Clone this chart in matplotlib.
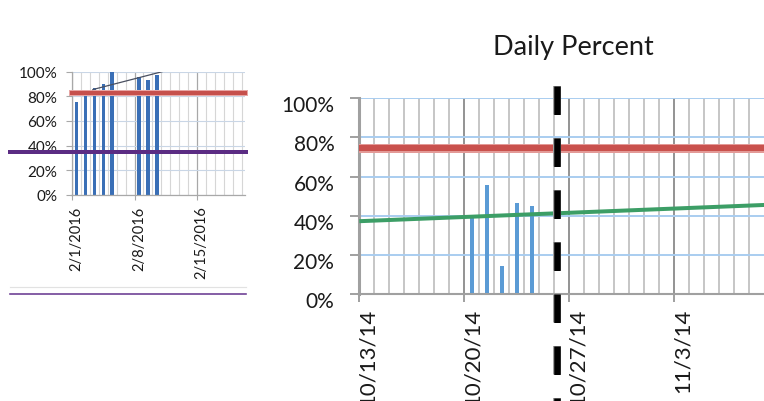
import matplotlib
matplotlib.use("Agg")
import matplotlib.pyplot as plt
import matplotlib.dates as mdates
import matplotlib.transforms as mtransforms
from matplotlib.lines import Line2D
from matplotlib.ticker import FuncFormatter, MultipleLocator
import pandas as pd

plt.rcParams['font.family'] = ['Lato', 'DejaVu Sans']

# -------------------------------
# Data: left chart (Feb 2016)
# -------------------------------
left_dates = pd.to_datetime(["2016-02-01", "2016-02-02", "2016-02-03", "2016-02-04",
                             "2016-02-05", "2016-02-08", "2016-02-09", "2016-02-10"])
left_values = [0.75, 0.80, 0.87, 0.90, 1.00, 0.955, 0.93, 0.975]
left_target = 0.83
left_floor = 0.35
left_trend_dates = pd.to_datetime(["2016-02-03 08:00", "2016-02-11 02:00"])
left_trend_values = [0.855, 1.0]
left_tick_dates = pd.to_datetime(["2016-02-01", "2016-02-08", "2016-02-15"])
left_tick_labels = ["2/1/2016", "2/8/2016", "2/15/2016"]

# -------------------------------
# Data: right chart (Daily Percent)
# -------------------------------
right_dates = pd.to_datetime(["2014-10-20", "2014-10-21", "2014-10-22",
                              "2014-10-23", "2014-10-24"])
right_values = [0.39, 0.555, 0.145, 0.465, 0.45]
right_target = 0.745
right_trend_dates = pd.to_datetime(["2014-10-13", "2014-11-09"])
right_trend_values = [0.372, 0.455]
right_cutoff = pd.Timestamp("2014-10-26 05:00")
right_tick_dates = pd.to_datetime(["2014-10-13", "2014-10-20", "2014-10-27", "2014-11-03"])
right_tick_labels = ["10/13/14", "10/20/14", "10/27/14", "11/3/14"]

y_ticks = [0, 0.2, 0.4, 0.6, 0.8, 1.0]

W, H = 764, 402
PT = 0.72  # points per pixel at dpi 100
fig = plt.figure(figsize=(W / 100, H / 100), dpi=100)


def px_axes(x0, y0, x1, y1):
    return fig.add_axes([x0 / W, 1 - y1 / H, (x1 - x0) / W, (y1 - y0) / H])


def shift(labels, dx, dy):
    off = mtransforms.ScaledTranslation(dx / 100, dy / 100, fig.dpi_scale_trans)
    for lab in labels:
        lab.set_transform(lab.get_transform() + off)


num = mdates.date2num
pct = FuncFormatter(lambda v, _: f"{v:.0%}")

# -------------------------------
# Left chart
# -------------------------------
ax1 = px_axes(71.5, 72.7, 245, 195.7)
d0 = num(pd.Timestamp("2016-02-01"))
ax1.set_xlim(d0 - 0.06, d0 + 19.37)
ax1.set_ylim(0, 1)
ax1.set_yticks(y_ticks)
ax1.yaxis.set_major_formatter(pct)
ax1.xaxis.set_minor_locator(MultipleLocator(1))
ax1.set_xticks(num(left_tick_dates))
ax1.set_xticklabels(left_tick_labels, rotation=90, fontsize=10.5, color='#1a1a1a')
ax1.grid(which='minor', axis='x', color='#d6d6d6', lw=0.8)
ax1.grid(which='major', axis='x', color='#a8a8a8', lw=0.9)
ax1.grid(which='major', axis='y', color='#c9d6e6', lw=0.8)
ax1.set_axisbelow(True)
ax1.tick_params(which='minor', length=0)
ax1.tick_params(axis='y', length=6 * PT, pad=8 * PT, labelsize=11,
                labelcolor='#1a1a1a', color='#a8a8a8')
ax1.tick_params(axis='x', which='major', length=5 * PT, pad=5.7 * PT, color='#a8a8a8')
for s in ['top', 'right']:
    ax1.spines[s].set_visible(False)
for s in ['left', 'bottom']:
    ax1.spines[s].set_color('#a8a8a8')
    ax1.spines[s].set_linewidth(0.9)
shift(ax1.get_xticklabels(), 4.5, 0)

ax1.bar(num(left_dates) + 0.5, left_values, width=0.4, color='#3a6fb6', zorder=2)
ax1.axhline(left_target, color='#e8a6a4', lw=6 * PT, zorder=3, clip_on=False)
ax1.axhline(left_target, color='#c6504c', lw=4 * PT, zorder=3, clip_on=False)
ax1.plot(num(left_trend_dates), left_trend_values, color='#4a5060', lw=0.9, zorder=4)

blend1 = mtransforms.blended_transform_factory(fig.transFigure, ax1.transData)
fig.add_artist(Line2D([10 / W, 246 / W], [left_floor, left_floor], transform=blend1,
                      color='#5b2c83', lw=4 * PT))
fig.add_artist(Line2D([10 / W, 246 / W], [1 - 288 / H, 1 - 288 / H],
                      color='#e2e2e2', lw=1.2 * PT))
fig.add_artist(Line2D([10 / W, 246 / W], [1 - 295 / H, 1 - 295 / H],
                      color='#6a3a92', lw=1.6 * PT))

# -------------------------------
# Right chart
# -------------------------------
ax2 = px_axes(359.3, 99.3, 764, 295)
r0 = num(pd.Timestamp("2014-10-13"))
ax2.set_xlim(r0, r0 + 26.98)
ax2.set_ylim(0, 1)
ax2.set_yticks(y_ticks)
ax2.yaxis.set_major_formatter(pct)
ax2.xaxis.set_minor_locator(MultipleLocator(1))
ax2.set_xticks(num(right_tick_dates))
ax2.set_xticklabels(right_tick_labels, rotation=90, fontsize=16, color='#1a1a1a')
ax2.grid(which='minor', axis='x', color='#c6c6c6', lw=1.4)
ax2.grid(which='major', axis='x', color='#808080', lw=1.2)
ax2.grid(which='major', axis='y', color='#a9cdf0', lw=1.4)
ax2.set_axisbelow(True)
ax2.tick_params(which='minor', length=0)
ax2.tick_params(axis='y', length=9 * PT, width=1.4, pad=16 * PT, labelsize=15,
                labelcolor='#1a1a1a', color='#a0a0a0')
ax2.tick_params(axis='x', which='major', length=8 * PT, width=1.4, pad=6 * PT,
                color='#a0a0a0')
for s in ['top', 'right']:
    ax2.spines[s].set_visible(False)
ax2.spines['left'].set_color('#a0a0a0')
ax2.spines['left'].set_linewidth(2.2)
ax2.spines['bottom'].set_color('#a0a0a0')
ax2.spines['bottom'].set_linewidth(1.5)
shift(ax2.get_xticklabels(), 8.5, 0)
shift(ax2.get_yticklabels(), 0, -5)

ax2.bar(num(right_dates) + 0.5, right_values, width=0.3, color='#5b9bd5', zorder=2)
ax2.axhline(right_target, color='#e39a97', lw=9 * PT, zorder=3)
ax2.axhline(right_target, color='#c9514d', lw=6 * PT, zorder=3)
ax2.plot(num(right_trend_dates), right_trend_values, color='#3c9e66', lw=4 * PT,
         zorder=4, solid_capstyle='butt')

blend2 = mtransforms.blended_transform_factory(ax2.transData, fig.transFigure)
cx = num(right_cutoff)
for lw, col in [(8 * PT, '#a0a0a0'), (6.5 * PT, 'black')]:
    cut = Line2D([cx, cx], [1 - 86.7 / H, 0], transform=blend2, color=col, lw=lw,
                 dash_capstyle='butt', zorder=10)
    cut.set_dashes((28.5 * PT / lw, 23.5 * PT / lw))
    fig.add_artist(cut)

fig.text(573 / W, 1 - 48 / H, "Daily Percent", ha='center', va='center',
         fontsize=19.5, color='#1a1a1a')

fig.savefig("out.png", dpi=100)
